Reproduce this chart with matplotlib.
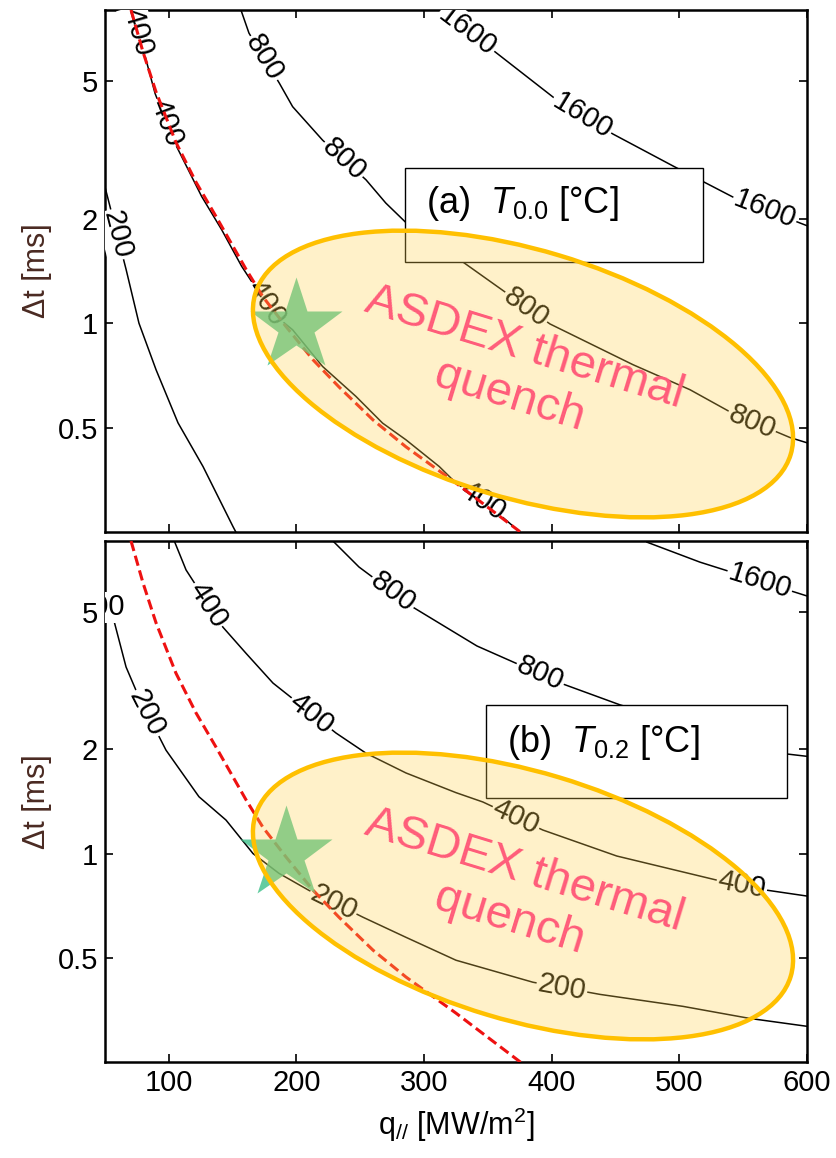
import numpy as np
import matplotlib
matplotlib.use('Agg')
import matplotlib.pyplot as plt
from matplotlib.patches import Ellipse, Rectangle
from matplotlib.ticker import FixedLocator, FixedFormatter, NullLocator

plt.rcParams['font.family'] = ['Liberation Sans', 'DejaVu Sans']
plt.rcParams['mathtext.fontset'] = 'custom'
plt.rcParams['mathtext.rm'] = 'Liberation Sans'
plt.rcParams['mathtext.it'] = 'Liberation Sans:italic'

# ---- data: q_par [MW/m2] vs dt [ms] ----
# panel (a): T_0.0 isotherms
a200_q = [50, 66.5, 76.6, 90, 107.2, 126.8, 150.3, 153]
a200_t = [2.47, 1.43, 1.0, 0.734, 0.516, 0.386, 0.259, 0.248]
a400_q = [71, 78.7, 89.2, 102.2, 112.7, 125.7, 141.4, 157, 181, 197, 220.5,
          246.6, 267.5, 285.8, 311.9, 325, 350, 375]
a400_t = [8.0, 6.41, 4.60, 3.45, 2.89, 2.32, 1.86, 1.46, 1.07, 0.957, 0.75,
          0.615, 0.515, 0.461, 0.386, 0.346, 0.30, 0.25]
a800_q = [156.5, 162.8, 186.6, 197, 220.5, 254.5, 270, 285.8, 330.5, 398.6,
          463.7, 508.3, 542, 586.7, 600]
a800_t = [8.0, 6.86, 4.92, 4.21, 3.37, 2.59, 2.22, 1.95, 1.50, 0.995,
          0.759, 0.643, 0.549, 0.468, 0.452]
a1600_q = [312.5, 351.6, 404, 448, 495, 542, 600]
a1600_t = [8.0, 6.22, 4.40, 3.51, 2.84, 2.31, 1.91]

# panel (b): T_0.2 isotherms
b200_q = [50.8, 56.3, 66.5, 76.6, 97.8, 123.6, 144.8, 166, 186.3, 209.8,
          252.1, 285.8, 325, 385.3, 437.8, 502.8, 555.3, 600]
b200_t = [5.15, 4.82, 3.46, 2.83, 1.99, 1.46, 1.25, 1.0, 0.877, 0.783,
          0.655, 0.573, 0.492, 0.425, 0.392, 0.362, 0.334, 0.317]
b400_q = [104, 113.5, 142.4, 160.5, 181.6, 231, 254.5, 285.8, 325, 346,
          393, 451, 529.5, 568.6, 600]
b400_t = [8.05, 6.6, 4.51, 3.79, 3.11, 2.23, 1.95, 1.71, 1.50, 1.41,
          1.17, 0.984, 0.838, 0.784, 0.754]
b800_q = [228.6, 249, 291.3, 325, 341.4, 408.8, 453.5, 584.3, 600]
b800_t = [8.0, 6.73, 5.15, 4.33, 3.98, 3.09, 2.69, 1.94, 1.91]
b1600_q = [474.6, 516.2, 600]
b1600_t = [7.94, 6.95, 5.55]

# red dashed limit (same in both panels)
red_q = [70.4, 79.8, 90, 105.6, 121.3, 137, 160.5, 173.8, 191.8, 213,
         233.3, 260, 285.8, 325, 376]
red_t = [8.0, 6.05, 4.64, 3.32, 2.55, 2.03, 1.43, 1.19, 0.978, 0.784,
         0.655, 0.526, 0.44, 0.346, 0.249]

# ASDEX operating point (star)
star_a = (200, 0.98)
star_b = (192, 1.0)

xticks = [100, 200, 300, 400, 500, 600]
yticks = [0.5, 1, 2, 5]
ytick_labels = ['0.5', '1', '2', '5']

curves_a = {200: (a200_q, a200_t), 400: (a400_q, a400_t),
            800: (a800_q, a800_t), 1600: (a1600_q, a1600_t)}
curves_b = {200: (b200_q, b200_t), 400: (b400_q, b400_t),
            800: (b800_q, b800_t), 1600: (b1600_q, b1600_t)}

# where the inline contour labels sit (q position along each line)
labpos_a = {200: [59.5], 400: [76, 98, 176, 346], 800: [174.6, 237, 380, 557],
            1600: [334, 424, 567]}
labpos_b = {200: [46.5, 83, 229, 408], 400: [131, 212, 372, 549],
            800: [275.6, 391], 1600: [563]}


def inline_label(ax, q, t, q0, txt):
    lt = np.log10(t)
    t0 = 10 ** np.interp(q0, q, lt)
    p1 = ax.transData.transform((q0 - 3, 10 ** np.interp(q0 - 3, q, lt)))
    p2 = ax.transData.transform((q0 + 3, 10 ** np.interp(q0 + 3, q, lt)))
    ang = np.degrees(np.arctan2(p2[1] - p1[1], p2[0] - p1[0]))
    if ang > 90:
        ang -= 180
    if ang < -90:
        ang += 180
    ax.text(q0, t0, txt, rotation=ang, rotation_mode='anchor', ha='center',
            va='center', fontsize=21, zorder=3, clip_on=True,
            bbox=dict(boxstyle='square,pad=0.05', fc='white', ec='none'))


def panel(ax, curves, labpos, star, box, label, ell_c, txt_c, bottom):
    ax.set_yscale('log')
    ax.set_autoscale_on(False)
    ax.set_xlim(50, 600)
    ax.set_ylim(0.25, 8)

    for T, (q, t) in curves.items():
        ax.plot(q, t, color='black', lw=1.1, zorder=2)
        for q0 in labpos[T]:
            inline_label(ax, q, t, q0, str(T))

    ax.plot(red_q, red_t, color='#ee1111', lw=2.2, dashes=(3.4, 1.6), zorder=3.5)

    x0, y0, x1, y1, tx, ty = box
    ax.add_patch(Rectangle((x0, y0), x1 - x0, y1 - y0, transform=ax.transAxes,
                           fc='white', ec='black', lw=1.0, zorder=4))
    ax.text(tx, ty, label, transform=ax.transAxes, fontsize=26,
            va='baseline', ha='left', zorder=5)

    ax.plot(star[0], star[1], marker='*', ms=70, color='#3cc08a', alpha=0.8,
            mec='none', zorder=6, clip_on=False)

    # highlighted region (drawn in inches so it keeps its shape)
    ax.add_patch(Ellipse(ell_c, 5.59, 2.48, angle=-16.7,
                         transform=fig.dpi_scale_trans,
                         fc=(1.0, 0.82, 0.30, 0.3), ec='#ffc000', lw=3.2,
                         zorder=7))
    ax.text(txt_c[0], txt_c[1], 'ASDEX thermal\nquench',
            transform=fig.dpi_scale_trans, rotation=-17,
            rotation_mode='anchor', ha='center', va='center',
            multialignment='center', fontsize=34, color='#ff5c7a', zorder=8)

    ax.xaxis.set_major_locator(FixedLocator(xticks))
    ax.yaxis.set_major_locator(FixedLocator(yticks))
    ax.yaxis.set_major_formatter(FixedFormatter(ytick_labels))
    ax.yaxis.set_minor_locator(NullLocator())
    ax.tick_params(direction='in', top=True, right=True, length=6, width=1.2,
                   labelsize=21, pad=5, labelbottom=bottom)
    for s in ax.spines.values():
        s.set_linewidth(1.8)
    ax.set_ylabel('Δt [ms]', fontsize=22, labelpad=4, color='#4a2a22')


fig = plt.figure(figsize=(8.36, 11.58), dpi=100)
ax_a = fig.add_axes([0.1256, 0.5406, 0.8397, 0.4508])
ax_b = fig.add_axes([0.1256, 0.0829, 0.8397, 0.4499])

panel(ax_a, curves_a, labpos_a, star_a,
      (0.427, 0.517, 0.852, 0.697, 0.457, 0.611),
      r'(a)  $T_{0.0}$ [°C]', (5.23, 7.84), (5.17, 7.86), False)
panel(ax_b, curves_b, labpos_b, star_b,
      (0.543, 0.507, 0.9715, 0.685, 0.573, 0.595),
      r'(b)  $T_{0.2}$ [°C]', (5.23, 2.62), (5.17, 2.63), True)

ax_b.set_xlabel(r'q$_{//}$ [MW/m$^2$]', fontsize=22, labelpad=6)

fig.savefig('out.png', dpi=100)
